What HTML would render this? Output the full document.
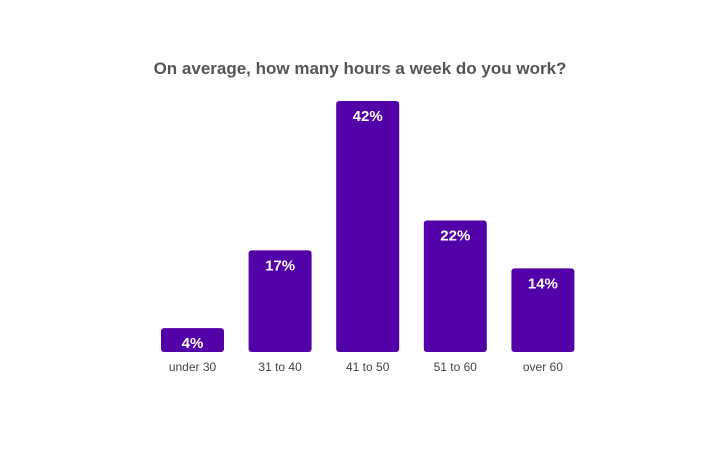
<!DOCTYPE html>
<html><head><meta charset="utf-8"><style>
html,body{margin:0;padding:0;background:#fff;}
svg{display:block;font-family:"Liberation Sans",sans-serif;}
</style></head><body>
<svg id="chart" width="721" height="450">
<text x="360" y="74" text-anchor="middle" font-size="17" font-weight="bold" fill="#555">On average, how many hours a week do you work?</text>
<g id="bars"></g>
</svg>
<script>
const categories = ["under 30","31 to 40","41 to 50","51 to 60","over 60"];
const values = [4,17,42,22,14];
const valueLabels = ["4%","17%","42%","22%","14%"];
const svgNS = "http://www.w3.org/2000/svg";
const baseY = 352, pxPerUnit = 251/42, firstX = 192.5, step = 87.6, barW = 63;
const x = i => firstX + i*step;
const y = v => baseY - v*pxPerUnit;
const g = document.getElementById('bars');
categories.forEach((c,i)=>{
  const r = document.createElementNS(svgNS,'rect');
  r.setAttribute('x', x(i)-barW/2);
  r.setAttribute('y', y(values[i]));
  r.setAttribute('width', barW);
  r.setAttribute('height', baseY - y(values[i]));
  r.setAttribute('rx', 3);
  r.setAttribute('fill', '#5200a8');
  
  
  g.appendChild(r);
  const t = document.createElementNS(svgNS,'text');
  t.setAttribute('x', x(i));
  t.setAttribute('y', y(values[i]) + 20);
  t.setAttribute('text-anchor','middle');
  t.setAttribute('font-size','15');
  t.setAttribute('font-weight','bold');
  t.setAttribute('fill','#fff');
  t.textContent = valueLabels[i];
  
  
  g.appendChild(t);
  const l = document.createElementNS(svgNS,'text');
  l.setAttribute('x', x(i));
  l.setAttribute('y', 371);
  l.setAttribute('text-anchor','middle');
  l.setAttribute('font-size','12');
  l.setAttribute('fill','#444');
  l.textContent = c;
  
  
  g.appendChild(l);
});
</script>
</body></html>
